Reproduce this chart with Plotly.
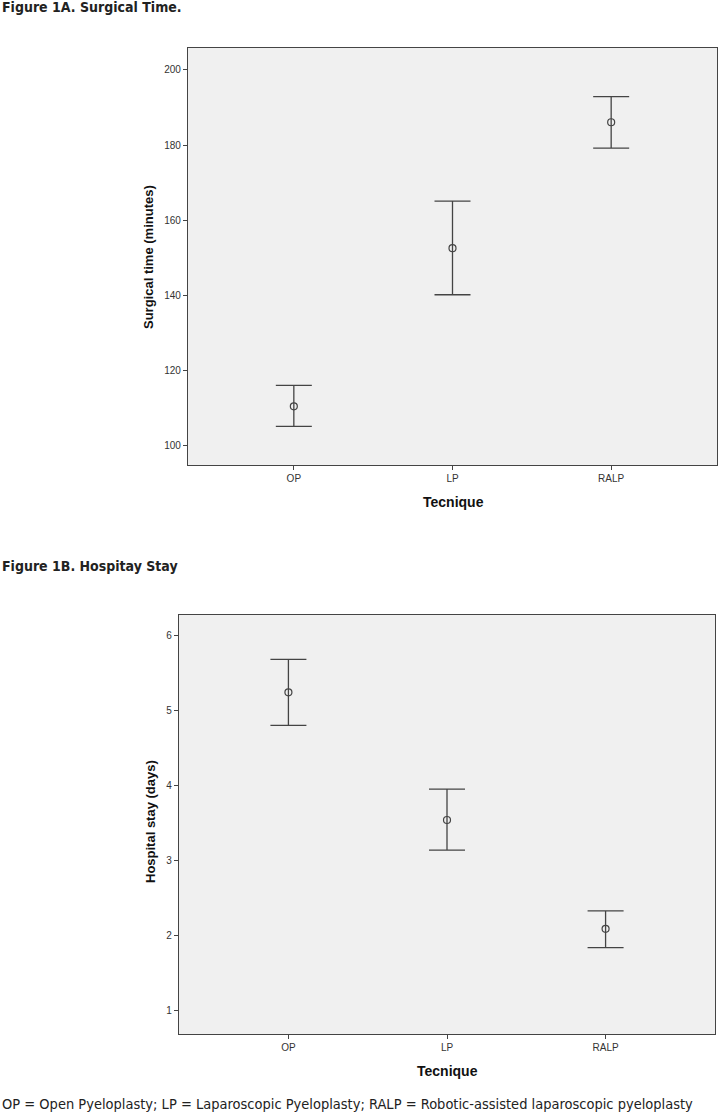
import plotly.graph_objects as go

# ---- data ----
techniques = ["OP", "LP", "RALP"]
surg_mean = [110.5, 152.6, 186.1]
surg_upper = [116.1, 165.1, 192.9]
surg_lower = [105.2, 140.2, 179.2]
stay_mean = [5.24, 3.54, 2.09]
stay_upper = [5.68, 3.95, 2.33]
stay_lower = [4.80, 3.14, 1.84]
surg_ticks = [100, 120, 140, 160, 180, 200]
stay_ticks = [1, 2, 3, 4, 5, 6]

W, H = 723, 1117
LINE = "#444444"
TXT = "#333333"
cond = "Liberation Sans Narrow, DejaVu Sans Condensed, Arial Narrow, sans-serif"

def px_x(v):
    return v / W

def px_y(v):
    return 1 - v / H

fig = go.Figure()

def add_series(mean, up, lo, xa, ya):
    fig.add_trace(go.Scatter(
        x=techniques, y=mean, xaxis=xa, yaxis=ya, mode="markers",
        marker=dict(symbol="circle-open", size=7, color=LINE, line=dict(width=1.2, color=LINE)),
        error_y=dict(type="data", symmetric=False,
                     array=[u - m for u, m in zip(up, mean)],
                     arrayminus=[m - l for m, l in zip(mean, lo)],
                     color=LINE, thickness=1.3, width=18),
        showlegend=False, hoverinfo="y"))

add_series(surg_mean, surg_upper, surg_lower, "x", "y")
add_series(stay_mean, stay_upper, stay_lower, "x2", "y2")

axis_common = dict(showgrid=False, zeroline=False, showline=True, mirror=True,
                   linecolor=LINE, linewidth=1.2, ticks="outside", ticklen=4,
                   tickcolor=LINE, tickwidth=1.2,
                   tickfont=dict(family="Arial, Liberation Sans, sans-serif", size=10, color=TXT))

fig.update_layout(
    width=W, height=H, margin=dict(l=0, r=0, t=0, b=0),
    paper_bgcolor="white", plot_bgcolor="#f0f0f0",
    xaxis=dict(domain=[px_x(188), px_x(717)], anchor="y", type="category",
               range=[-0.667, 2.667], **axis_common),
    yaxis=dict(domain=[px_y(465), px_y(48)], anchor="x", range=[94.9, 205.85],
               tickvals=surg_ticks, **axis_common),
    xaxis2=dict(domain=[px_x(179), px_x(715)], anchor="y2", type="category",
                range=[-0.69, 2.69], **axis_common),
    yaxis2=dict(domain=[px_y(1034), px_y(615)], anchor="x2", range=[0.69, 6.27],
                tickvals=stay_ticks, **axis_common),
)

bold = dict(family="Arial, Liberation Sans, sans-serif", size=13, color="#111111")
ann = [
    dict(text="<b>Figure 1A. Surgical Time.</b>", x=0, y=px_y(7), xanchor="left", yanchor="middle",
         font=dict(family=cond, size=14, color="#222222")),
    dict(text="<b>Figure 1B. Hospitay Stay</b>", x=0, y=px_y(566), xanchor="left", yanchor="middle",
         font=dict(family=cond, size=14, color="#222222")),
    dict(text="<b>Surgical time (minutes)</b>", x=px_x(148), y=px_y(257), textangle=-90,
         xanchor="center", yanchor="middle", font=bold),
    dict(text="<b>Hospital stay (days)</b>", x=px_x(150), y=px_y(822), textangle=-90,
         xanchor="center", yanchor="middle", font=bold),
    dict(text="<b>Tecnique</b>", x=px_x(453), y=px_y(502), xanchor="center", yanchor="middle",
         font=dict(family="Arial, Liberation Sans, sans-serif", size=14, color="#111111")),
    dict(text="<b>Tecnique</b>", x=px_x(447), y=px_y(1071), xanchor="center", yanchor="middle",
         font=dict(family="Arial, Liberation Sans, sans-serif", size=14, color="#111111")),
    dict(text="OP = Open Pyeloplasty; LP = Laparoscopic Pyeloplasty; RALP = Robotic-assisted laparoscopic pyeloplasty",
         x=0, y=px_y(1104), xanchor="left", yanchor="middle",
         font=dict(family=cond, size=14.5, color="#222222")),
]
for a in ann:
    a.update(xref="paper", yref="paper", showarrow=False)
fig.update_layout(annotations=ann)

fig.write_html("out.html", config={"displayModeBar": False},
               post_script="document.body.style.margin='0';")
